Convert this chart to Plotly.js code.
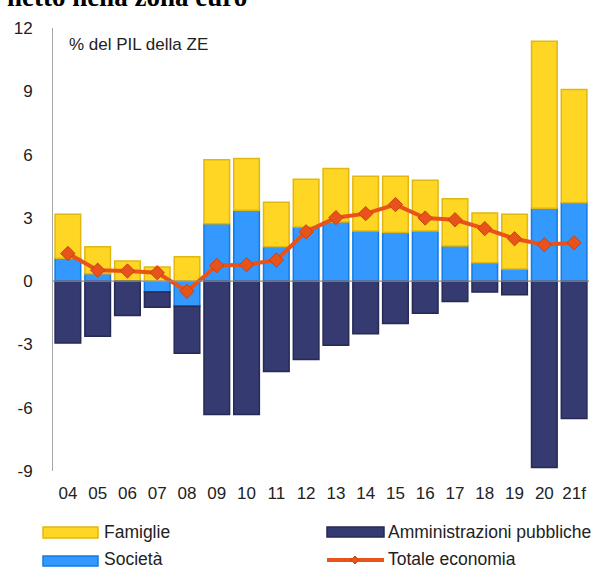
<!DOCTYPE html>
<html>
<head>
<meta charset="utf-8">
<script src="https://cdn.plot.ly/plotly-3.0.1.min.js"></script>
<style>
html,body{margin:0;padding:0;background:#fff;}
#chart{width:597px;height:567px;}
</style>
</head>
<body>
<div id="chart"></div>
<script>
// ---- data ----
const categories = ["04","05","06","07","08","09","10","11","12","13","14","15","16","17","18","19","20","21f"];
const societa = [1.08, 0.35, 0.00, -0.51, -1.19, 2.72, 3.36, 1.63, 2.57, 2.80, 2.38, 2.30, 2.38, 1.66, 0.87, 0.57, 3.45, 3.72];
const famiglie = [2.09, 1.28, 0.95, 0.67, 1.16, 3.03, 2.45, 2.11, 2.26, 2.54, 2.59, 2.67, 2.40, 2.24, 2.36, 2.60, 7.92, 5.37];
const amministrazioni = [-2.93, -2.61, -1.63, -0.73, -2.23, -6.32, -6.32, -4.28, -3.72, -3.04, -2.49, -2.01, -1.52, -0.97, -0.52, -0.65, -8.84, -6.51];
const totale = [1.31, 0.52, 0.48, 0.40, -0.48, 0.74, 0.78, 1.00, 2.34, 3.01, 3.20, 3.63, 2.99, 2.91, 2.49, 2.01, 1.73, 1.82];
const yTicks = [-9, -6, -3, 0, 3, 6, 9, 12];
const names = {fam: "Famiglie", soc: "Società", amm: "Amministrazioni pubbliche", tot: "Totale economia"};

// ---- styles ----
const C = {
  famFill: "#FED623", famLine: "#E2B711",
  socFill: "#3399FF", socLine: "#137BE3",
  ammFill: "#353A70", ammLine: "#262A55",
  tot: "#E8521B", totMarkLine: "#C9430F",
  text: "#222222"
};
const FONT = "Liberation Sans, Arial, sans-serif";

const W = 597, H = 567;
const M = {l: 53, r: 8, t: 28, b: 96};
const PW = W - M.l - M.r, PH = H - M.t - M.b;
const px = v => (v - M.l) / PW;
const py = v => (H - M.b - v) / PH;

const traces = [
  {type: "bar", name: names.soc, x: categories, y: societa,
   marker: {color: C.socFill, line: {color: C.socLine, width: 1.5}}},
  {type: "bar", name: names.fam, x: categories, y: famiglie,
   marker: {color: C.famFill, line: {color: C.famLine, width: 1.5}}},
  {type: "bar", name: names.amm, x: categories, y: amministrazioni,
   marker: {color: C.ammFill, line: {color: C.ammLine, width: 1.5}}},
  {type: "scatter", mode: "lines+markers", name: names.tot, x: categories, y: totale,
   line: {color: C.tot, width: 4},
   marker: {symbol: "diamond", size: 11, color: C.tot, line: {color: C.totMarkLine, width: 1}}}
];

function rect(x0, x1, y0, y1, fill, line) {
  return {type: "rect", xref: "paper", yref: "paper", x0: px(x0), x1: px(x1), y0: py(y1), y1: py(y0),
          fillcolor: fill, line: {color: line, width: 1.5}, layer: "above"};
}
function lbl(x, y, t) {
  return {xref: "paper", yref: "paper", x: px(x), y: py(y), xanchor: "left", yanchor: "middle",
          text: t, showarrow: false, font: {family: FONT, size: 17.5, color: C.text}};
}
const dx = 355, dy = 560;
const shapes = [
  {type: "line", xref: "paper", yref: "y", x0: 0, x1: 1, y0: 0, y1: 0, line: {color: "#8c8c8c", width: 1.2}, layer: "above"},
  rect(43, 98, 527, 538, C.famFill, C.famLine),
  rect(43, 98, 556, 566, C.socFill, C.socLine),
  rect(327, 384, 527, 537, C.ammFill, C.ammLine),
  {type: "line", xref: "paper", yref: "paper", x0: px(327), x1: px(384), y0: py(dy), y1: py(dy), line: {color: C.tot, width: 4}},
  {type: "path", xref: "paper", yref: "paper",
   path: `M${px(dx-4)},${py(dy)} L${px(dx)},${py(dy-4)} L${px(dx+4)},${py(dy)} L${px(dx)},${py(dy+4)} Z`,
   fillcolor: C.tot, line: {color: C.totMarkLine, width: 1}}
];

const annotations = [
  lbl(102, 532, names.fam),
  lbl(102, 559, names.soc),
  lbl(386, 532, names.amm),
  lbl(386, 559, names.tot),
  {xref: "paper", yref: "paper", x: px(67), y: py(44), xanchor: "left", yanchor: "middle",
   text: "% del PIL della ZE", showarrow: false, font: {family: FONT, size: 17, color: C.text}},
  {xref: "paper", yref: "paper", x: px(5), y: py(-3), xanchor: "left", yanchor: "middle",
   text: "<b>netto nella zona euro</b>", showarrow: false,
   font: {family: "Liberation Serif, Times New Roman, serif", size: 27, color: "#000"}}
];

const layout = {
  width: W, height: H,
  margin: M,
  paper_bgcolor: "#fff", plot_bgcolor: "#fff",
  barmode: "relative", bargap: 0.14,
  showlegend: false,
  font: {family: FONT, size: 17, color: C.text},
  xaxis: {type: "category", range: [-0.5, categories.length - 0.5], showgrid: false, zeroline: false,
          showline: false, ticks: "", ticklabelstandoff: 10, tickfont: {family: FONT, size: 17, color: C.text}},
  yaxis: {range: [-9, 12], tickvals: yTicks, ticktext: yTicks.map(String), showgrid: false, zeroline: false,
          showline: true, linecolor: "#a6a6a6", linewidth: 1, ticks: "", ticklabelstandoff: 16,
          tickfont: {family: FONT, size: 17, color: C.text}},
  shapes: shapes,
  annotations: annotations
};

Plotly.newPlot("chart", traces, layout, {displayModeBar: false, staticPlot: true});
</script>
</body>
</html>
